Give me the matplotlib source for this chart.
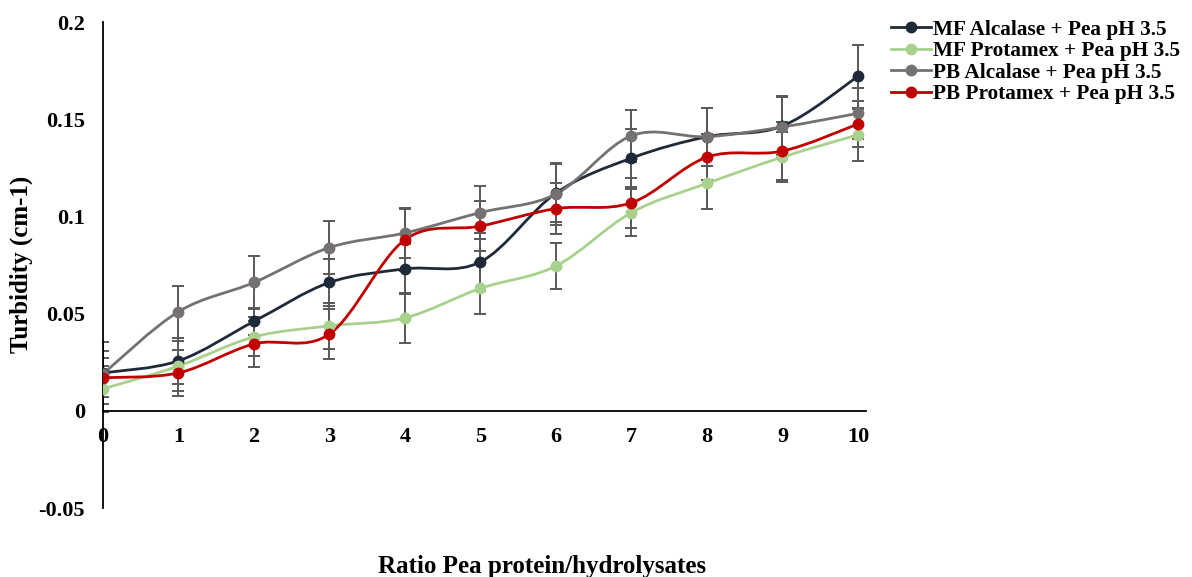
import numpy as np
import matplotlib
matplotlib.use("Agg")
import matplotlib.pyplot as plt
from matplotlib.path import Path
from matplotlib.patches import PathPatch
from matplotlib.lines import Line2D

ratios = [0, 1, 2, 3, 4, 5, 6, 7, 8, 9, 10]
series_names = ["MF Alcalase + Pea pH 3.5", "MF Protamex + Pea pH 3.5",
                "PB Alcalase + Pea pH 3.5", "PB Protamex + Pea pH 3.5"]
mf_alcalase = [0.0195, 0.0257, 0.046, 0.066, 0.073, 0.0766, 0.112, 0.130, 0.141, 0.1465, 0.172]
mf_protamex = [0.0113, 0.023, 0.038, 0.0437, 0.0478, 0.063, 0.0745, 0.102, 0.117, 0.1305, 0.142]
pb_alcalase = [0.019, 0.051, 0.066, 0.084, 0.0915, 0.102, 0.1115, 0.1415, 0.141, 0.146, 0.153]
pb_protamex = [0.017, 0.0195, 0.0344, 0.0395, 0.088, 0.095, 0.104, 0.107, 0.1305, 0.1336, 0.1475]
mf_alcalase_err = [0.016, 0.012, 0.007, 0.012, 0.013, 0.015, 0.015, 0.015, 0.015, 0.015, 0.016]
mf_protamex_err = [0.012, 0.013, 0.010, 0.012, 0.013, 0.0134, 0.012, 0.012, 0.013, 0.013, 0.0134]
pb_alcalase_err = [0.012, 0.0134, 0.0134, 0.0134, 0.013, 0.0134, 0.016, 0.0134, 0.015, 0.016, 0.013]
pb_protamex_err = [0.010, 0.012, 0.012, 0.013, 0.016, 0.013, 0.013, 0.013, 0.012, 0.015, 0.012]
colors = ["#1F2A38", "#A9D18E", "#767171", "#C00000"]

plt.rcParams['font.family'] = ['Liberation Serif', 'DejaVu Serif']
plt.rcParams['font.weight'] = 'bold'

fig = plt.figure(figsize=(11.92, 5.77), dpi=100)
ax = fig.add_axes([103/1192, 1-508/577, 762.5/1192, 486/577])
ax.set_xlim(0, 10.1)
ax.set_ylim(-0.05, 0.2)


def smooth_path(x, y):
    x = np.asarray(x, float); y = np.asarray(y, float)
    n = len(x)
    verts = [(x[0], y[0])]
    codes = [Path.MOVETO]
    for i in range(n - 1):
        xm = x[i-1] if i > 0 else x[i]
        ym = y[i-1] if i > 0 else y[i]
        xp = x[i+2] if i + 2 < n else x[i+1]
        yp = y[i+2] if i + 2 < n else y[i+1]
        c1 = (x[i] + (x[i+1] - xm) / 6, y[i] + (y[i+1] - ym) / 6)
        c2 = (x[i+1] - (xp - x[i]) / 6, y[i+1] - (yp - y[i]) / 6)
        verts += [c1, c2, (x[i+1], y[i+1])]
        codes += [Path.CURVE4] * 3
    return Path(verts, codes)


all_vals = [mf_alcalase, mf_protamex, pb_alcalase, pb_protamex]
all_errs = [mf_alcalase_err, mf_protamex_err, pb_alcalase_err, pb_protamex_err]
for vals, errs in zip(all_vals, all_errs):
    ax.errorbar(ratios, vals, yerr=errs, fmt='none', ecolor='#595959',
                elinewidth=1.4, capsize=4, capthick=1.4, zorder=2)

handles = []
for vals, c, name in zip(all_vals, colors, series_names):
    patch = PathPatch(smooth_path(ratios, vals), facecolor='none', edgecolor=c,
                      lw=2.0, zorder=3)
    ax.add_patch(patch)
    ax.plot(ratios, vals, linestyle='none', marker='o', markersize=7.5,
            color=c, zorder=4)
    handles.append(Line2D([0], [0], color=c, lw=2.0, marker='o', markersize=7.5))

for s in ['top', 'right']:
    ax.spines[s].set_visible(False)
ax.spines['bottom'].set_position(('data', 0))
ax.spines['bottom'].set_bounds(0, 10.1)
for s in ['left', 'bottom']:
    ax.spines[s].set_color('#000000')
    ax.spines[s].set_linewidth(1.3)

ax.set_xticks(ratios)
ax.set_xticklabels([str(r) for r in ratios])
ax.set_yticks([-0.05, 0, 0.05, 0.1, 0.15, 0.2])
ax.set_yticklabels(['-0.05', '0', '0.05', '0.1', '0.15', '0.2'])
ax.tick_params(axis='both', length=0, labelsize=16)
ax.tick_params(axis='y', pad=13)
ax.tick_params(axis='x', pad=12)
for lab in ax.get_xticklabels() + ax.get_yticklabels():
    lab.set_fontweight('bold')

fig.text(21/1192, 1-264/577, "Turbidity (cm-1)", rotation=90, ha='center', va='center',
         fontsize=18, fontweight='bold')
fig.text(542/1192, 1-566/577, "Ratio Pea protein/hydrolysates", ha='center', va='center',
         fontsize=18, fontweight='bold')

fig.legend(handles, series_names, loc='upper left', bbox_to_anchor=(876/1192, 1-5/577),
           frameon=False, prop={'weight': 'bold', 'size': 15.3},
           handlelength=1.9, handletextpad=0.1, labelspacing=0.07, borderpad=0.2)

fig.savefig('out.png', dpi=100)
